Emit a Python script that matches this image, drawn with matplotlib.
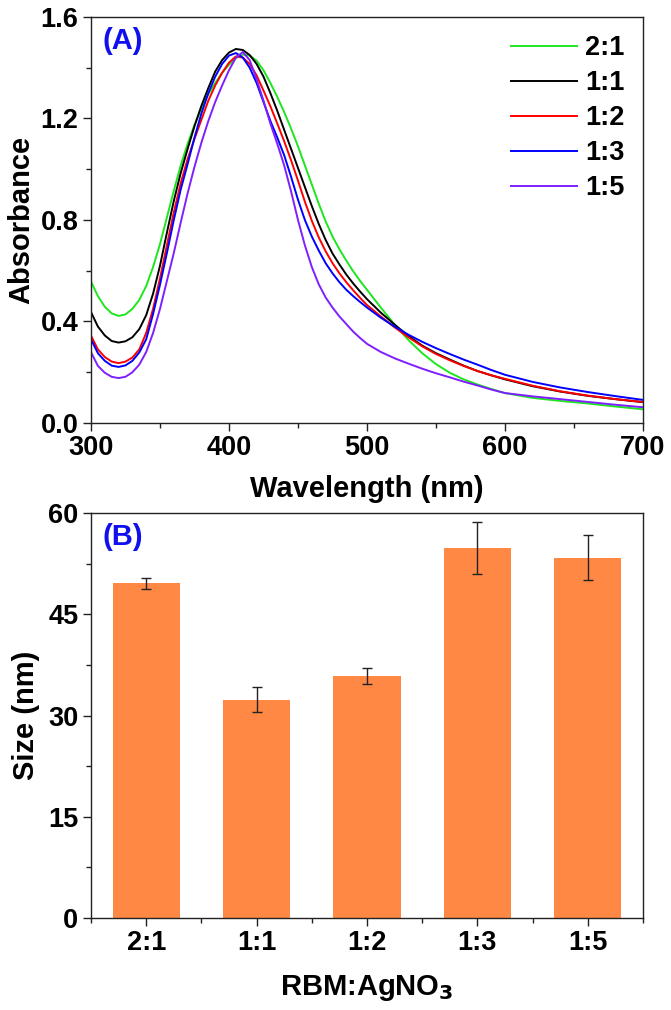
import matplotlib
matplotlib.use("Agg")
import matplotlib.pyplot as plt
from matplotlib.ticker import MultipleLocator, FormatStrFormatter

plt.rcParams['font.family'] = ['Liberation Sans', 'DejaVu Sans']
plt.rcParams['font.weight'] = 'bold'
plt.rcParams['mathtext.default'] = 'bf'

# ---------------- data ----------------
wavelength = [300, 305, 310, 315, 320, 325, 330, 335, 340, 345, 350, 355, 360, 365, 370, 375, 380, 385, 390, 395,
              400, 405, 410, 415, 420, 425, 430, 435, 440, 445, 450, 455, 460, 465, 470, 475, 480, 485, 490, 495,
              500, 510, 520, 530, 540, 550, 560, 570, 580, 590, 600, 620, 640, 660, 680, 700]

abs_2_1 = [0.557, 0.500, 0.458, 0.432, 0.422, 0.428, 0.450, 0.485, 0.540, 0.615, 0.705, 0.810, 0.915, 1.015, 1.100, 1.175, 1.240, 1.295, 1.340, 1.380,
           1.412, 1.438, 1.452, 1.448, 1.428, 1.390, 1.340, 1.285, 1.225, 1.160, 1.090, 1.015, 0.940, 0.865, 0.795, 0.735, 0.685, 0.640, 0.598, 0.560,
           0.525, 0.455, 0.388, 0.327, 0.275, 0.232, 0.198, 0.172, 0.152, 0.134, 0.118, 0.099, 0.087, 0.077, 0.065, 0.054]
abs_1_1 = [0.437, 0.380, 0.345, 0.323, 0.317, 0.322, 0.338, 0.370, 0.425, 0.510, 0.620, 0.750, 0.875, 0.985, 1.080, 1.170, 1.250, 1.320, 1.385, 1.430,
           1.460, 1.474, 1.470, 1.450, 1.415, 1.365, 1.300, 1.230, 1.155, 1.080, 1.005, 0.930, 0.855, 0.785, 0.722, 0.668, 0.625, 0.585, 0.550, 0.518,
           0.488, 0.435, 0.388, 0.343, 0.305, 0.275, 0.250, 0.226, 0.205, 0.188, 0.172, 0.145, 0.124, 0.107, 0.094, 0.082]
abs_1_2 = [0.344, 0.290, 0.260, 0.242, 0.236, 0.242, 0.258, 0.290, 0.355, 0.450, 0.570, 0.700, 0.830, 0.945, 1.040, 1.120, 1.195, 1.270, 1.330, 1.380,
           1.420, 1.445, 1.440, 1.415, 1.370, 1.310, 1.248, 1.180, 1.110, 1.035, 0.955, 0.872, 0.797, 0.732, 0.677, 0.630, 0.590, 0.555, 0.523, 0.493,
           0.465, 0.420, 0.377, 0.338, 0.302, 0.272, 0.247, 0.225, 0.205, 0.188, 0.174, 0.147, 0.125, 0.108, 0.094, 0.083]
abs_1_3 = [0.330, 0.275, 0.245, 0.226, 0.221, 0.227, 0.245, 0.278, 0.330, 0.430, 0.545, 0.670, 0.800, 0.920, 1.020, 1.125, 1.220, 1.300, 1.365, 1.415,
           1.448, 1.458, 1.440, 1.400, 1.340, 1.265, 1.190, 1.125, 1.055, 0.970, 0.880, 0.800, 0.735, 0.680, 0.630, 0.590, 0.555, 0.525, 0.500, 0.477,
           0.455, 0.415, 0.380, 0.348, 0.320, 0.295, 0.272, 0.250, 0.230, 0.209, 0.190, 0.162, 0.140, 0.122, 0.106, 0.091]
abs_1_5 = [0.279, 0.225, 0.198, 0.182, 0.177, 0.182, 0.200, 0.230, 0.280, 0.355, 0.450, 0.560, 0.670, 0.790, 0.905, 1.010, 1.105, 1.190, 1.265, 1.330,
           1.390, 1.440, 1.462, 1.430, 1.355, 1.270, 1.180, 1.100, 1.015, 0.912, 0.800, 0.700, 0.615, 0.547, 0.495, 0.455, 0.420, 0.390, 0.360, 0.335,
           0.312, 0.280, 0.255, 0.234, 0.214, 0.196, 0.180, 0.163, 0.148, 0.132, 0.118, 0.105, 0.094, 0.083, 0.072, 0.062]

series_labels = ['2:1', '1:1', '1:2', '1:3', '1:5']
series_colors = ['#1ee61e', '#000000', '#ff0000', '#0000ff', '#7f1fff']

ratios = ['2:1', '1:1', '1:2', '1:3', '1:5']
size_nm = [49.6, 32.3, 35.8, 54.8, 53.4]
size_err = [0.8, 1.85, 1.2, 3.9, 3.3]

# ---------------- figure ----------------
fig = plt.figure(figsize=(6.71, 10.10), dpi=100)
W, H = 671, 1010
ax1 = fig.add_axes([91 / W, 1 - 423 / H, 552 / W, 406 / H])
ax2 = fig.add_axes([91 / W, 1 - 918 / H, 552 / W, 405 / H])

TICK_FS = 19.5
LABEL_FS = 21

def style_axes(ax):
    for sp in ax.spines.values():
        sp.set_linewidth(1.0)
        sp.set_color('#222222')
    ax.tick_params(which='major', direction='out', length=6, width=1.0, labelsize=TICK_FS, pad=3, color='#222222')
    ax.tick_params(which='minor', direction='out', length=3.5, width=1.0, color='#222222')
    for lab in ax.get_xticklabels() + ax.get_yticklabels():
        lab.set_fontweight('bold')

# Panel A
all_abs = [abs_2_1, abs_1_1, abs_1_2, abs_1_3, abs_1_5]
for vals, lab, col in zip(all_abs, series_labels, series_colors):
    ax1.plot(wavelength, vals, color=col, lw=1.4, label=lab, solid_joinstyle='round')
ax1.set_xlim(300, 700)
ax1.set_ylim(0, 1.6)
ax1.xaxis.set_major_locator(MultipleLocator(100))
ax1.xaxis.set_minor_locator(MultipleLocator(50))
ax1.yaxis.set_major_locator(MultipleLocator(0.4))
ax1.yaxis.set_minor_locator(MultipleLocator(0.2))
ax1.yaxis.set_major_formatter(FormatStrFormatter('%.1f'))
style_axes(ax1)
ax1.set_xlabel('Wavelength (nm)', fontsize=LABEL_FS, fontweight='bold', labelpad=10)
ax1.set_ylabel('Absorbance', fontsize=LABEL_FS, fontweight='bold', labelpad=4)
ax1.text(0.02, 0.975, '(A)', transform=ax1.transAxes, color='#1010ee', fontsize=21,
         fontweight='bold', va='top', ha='left')
leg = ax1.legend(loc='upper left', bbox_to_anchor=(0.76, 0.955), frameon=False,
                 fontsize=TICK_FS, handlelength=2.45, handletextpad=0.3, labelspacing=0.33,
                 borderpad=0, borderaxespad=0)
for t in leg.get_texts():
    t.set_fontweight('bold')
for h in leg.get_lines():
    h.set_linewidth(1.4)

# Panel B
x = list(range(1, len(ratios) + 1))
ax2.bar(x, size_nm, width=0.61, color='#ff8844', edgecolor='none',
        yerr=size_err, capsize=3.5, error_kw=dict(ecolor='#222222', elinewidth=1.0, capthick=1.0))
ax2.set_xlim(0.5, 5.5)
ax2.set_ylim(0, 60)
ax2.set_xticks(x)
ax2.set_xticklabels(ratios)
ax2.xaxis.set_minor_locator(MultipleLocator(0.5))
ax2.yaxis.set_major_locator(MultipleLocator(15))
ax2.yaxis.set_minor_locator(MultipleLocator(7.5))
style_axes(ax2)
ax2.set_xlabel('RBM:AgNO$_3$', fontsize=LABEL_FS, fontweight='bold', labelpad=12)
ax2.set_ylabel('Size (nm)', fontsize=LABEL_FS, fontweight='bold', labelpad=6)
ax2.text(0.02, 0.975, '(B)', transform=ax2.transAxes, color='#1010ee', fontsize=21,
         fontweight='bold', va='top', ha='left')

fig.savefig('out.png', dpi=100)
